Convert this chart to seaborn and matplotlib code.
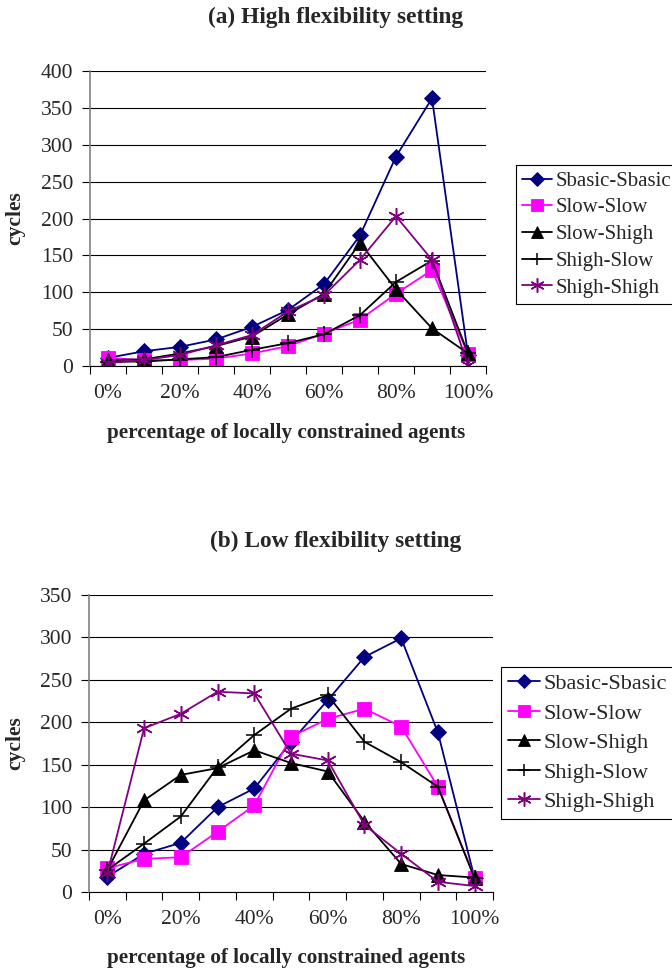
import matplotlib
matplotlib.use("Agg")
import matplotlib.pyplot as plt
import seaborn as sns
import pandas as pd
import numpy as np

sns.set_theme(style="white")
plt.rcParams['font.family'] = ['Liberation Serif', 'DejaVu Serif']

categories = ["0%", "10%", "20%", "30%", "40%", "50%", "60%", "70%", "80%", "90%", "100%"]
series_names = ["Sbasic-Sbasic", "Slow-Slow", "Slow-Shigh", "Shigh-Slow", "Shigh-Shigh"]

high_sbasic_sbasic = [11, 20, 26, 36, 53, 76, 111, 177, 284, 363, 15]
high_slow_slow = [11, 8, 8, 10, 17, 27, 44, 63, 98, 130, 16]
high_slow_shigh = [8, 9, 17, 27, 40, 70, 98, 167, 104, 51, 17]
high_shigh_slow = [6, 6, 9, 12, 22, 31, 43, 69, 114, 143, 17]
high_shigh_shigh = [4, 8, 15, 28, 42, 74, 96, 144, 203, 144, 1]

low_sbasic_sbasic = [18, 45, 58, 100, 122, 177, 226, 277, 299, 188, 16]
low_slow_slow = [28, 39, 41, 71, 102, 183, 204, 216, 195, 124, 17]
low_slow_shigh = [26, 108, 138, 146, 167, 152, 142, 83, 33, 20, 17]
low_shigh_slow = [26, 57, 89, 147, 185, 216, 232, 177, 153, 124, 16]
low_shigh_shigh = [22, 193, 210, 236, 234, 163, 155, 79, 45, 12, 7]

titles = ["(a) High flexibility setting", "(b) Low flexibility setting"]
xlabel = "percentage of locally constrained agents"
ylabel = "cycles"

colors = ["#000080", "#FF00FF", "#000000", "#000000", "#800080"]
markers = ["D", "s", "^", "+", (6, 2, 0)]
msizes = [8, 10.5, 10.5, 11, 12]

high = [high_sbasic_sbasic, high_slow_slow, high_slow_shigh, high_shigh_slow, high_shigh_shigh]
low = [low_sbasic_sbasic, low_slow_slow, low_slow_shigh, low_shigh_slow, low_shigh_shigh]

W, H = 672, 971
fig = plt.figure(figsize=(W / 100, H / 100), dpi=100)

def ax_rect(l, t, r, b):
    return [l / W, 1 - b / H, (r - l) / W, (b - t) / H]

axes_px = [(90, 71, 486, 366), (89, 595, 493, 892)]
ymaxes = [400, 350]
title_y = [17, 541]
xlabel_y = [433, 958]
legend_px = [(516, 165), (501, 667)]
legend_fs = [15, 16]
legend_spacing = [0.34, 0.4]

for i, data in enumerate([high, low]):
    ax = fig.add_axes(ax_rect(*axes_px[i]))
    rows = []
    for name, vals in zip(series_names, data):
        for j, v in enumerate(vals):
            rows.append({"x": j, "cat": categories[j], "y": v, "series": name})
    df = pd.DataFrame(rows)
    for k, name in enumerate(series_names):
        sub = df[df["series"] == name]
        thin = k >= 3
        sns.lineplot(data=sub, x="x", y="y", ax=ax, color=colors[k], marker=markers[k],
                     markersize=msizes[k], markeredgecolor=colors[k],
                     markeredgewidth=1.1 if thin else 0.6,
                     linewidth=1.3, label=name, legend=False)
    ax.set_xlim(-0.5, 10.5)
    ax.set_ylim(0, ymaxes[i])
    ax.set_yticks(np.arange(0, ymaxes[i] + 1, 50))
    ax.yaxis.grid(True, color="black", linewidth=0.8)
    ax.set_axisbelow(True)
    ax.set_xticks(np.arange(-0.5, 10.6, 1.0))
    ax.set_xticklabels([])
    ax.set_xticks(np.arange(0, 11, 2), minor=True)
    ax.set_xticklabels([categories[j] for j in range(0, 11, 2)], minor=True)
    ax.tick_params(axis="x", which="major", length=6, width=0.8, direction="out", bottom=True, color="black")
    ax.tick_params(axis="x", which="minor", length=0, pad=13, labelsize=15.5)
    ax.tick_params(axis="y", length=6, width=0.8, direction="out", left=True, labelsize=15.5, color="black", pad=6)
    for s in ["top", "right"]:
        ax.spines[s].set_visible(False)
    ax.spines["left"].set_color("#808080")
    ax.spines["left"].set_linewidth(1.2)
    ax.spines["bottom"].set_color("black")
    ax.spines["bottom"].set_linewidth(0.8)
    ax.set_xlabel("")
    ax.set_ylabel("")
    fig.text(15 / W, 1 - ((axes_px[i][1] + axes_px[i][3]) / 2) / H, ylabel, rotation=90,
             ha="center", va="center", fontsize=15.5, fontweight="bold")
    fig.text(0.5, 1 - title_y[i] / H, titles[i], ha="center", va="center", fontsize=16.8, fontweight="bold")
    fig.text(286 / W, 1 - xlabel_y[i] / H, xlabel, ha="center", va="center",
             fontsize=15.2, fontweight="bold")
    handles, labels = ax.get_legend_handles_labels()
    lx, ly = legend_px[i]
    leg = fig.legend(handles, labels, loc="upper left", bbox_to_anchor=(lx / W, 1 - ly / H),
                     fontsize=legend_fs[i], frameon=True, fancybox=False, edgecolor="black", framealpha=1,
                     borderpad=0.3, labelspacing=legend_spacing[i], handlelength=1.45, handletextpad=0.15,
                     borderaxespad=0, markerscale=0.85)
    leg.get_frame().set_linewidth(0.8)

fig.savefig("out.png", dpi=100)
